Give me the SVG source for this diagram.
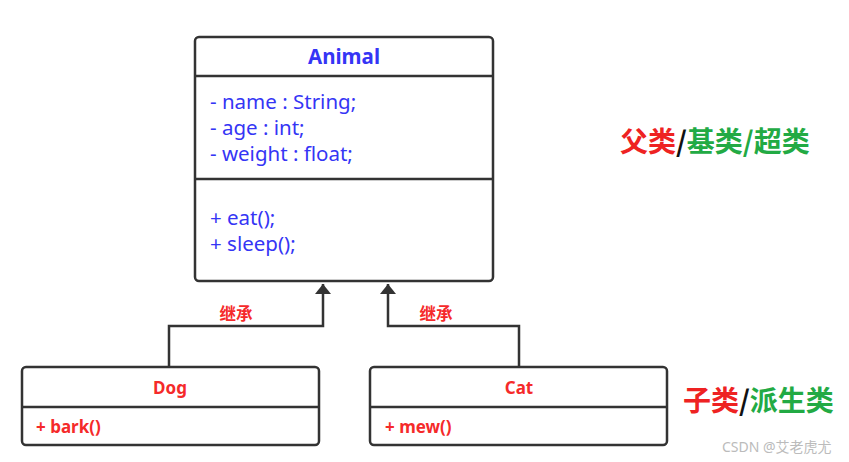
<svg xmlns="http://www.w3.org/2000/svg" width="849" height="462" viewBox="0 0 849 462">
<style>
.box{fill:#fff;stroke:#333;stroke-width:2.5}
.ln{stroke:#333;stroke-width:2.5;fill:none}
.blue{fill:#3535f5;font-family:"Noto Sans","Noto Sans CJK SC",sans-serif;font-size:20.5px}
.title{fill:#3535f5;font-family:"Noto Sans",sans-serif;font-size:20.5px;font-weight:bold}
.red{fill:#f52a2a;font-family:"Noto Sans","Noto Sans CJK SC",sans-serif;font-size:17px;font-weight:bold}
.lbl{fill:#f52a2a;font-family:"Noto Sans CJK SC",sans-serif;font-size:16.5px;font-weight:bold}
.big{font-family:"Noto Sans CJK SC",sans-serif;font-size:28px;font-weight:bold}
</style>
<defs>
<marker id="ah" viewBox="0 0 10 16" refX="10" refY="8" markerWidth="10" markerHeight="16" markerUnits="userSpaceOnUse" orient="auto">
<path d="M0,0 L10,8 L0,16 Z" fill="#333"/>
</marker>
</defs>
<g id="connectors">
<polyline class="ln" points="169,367 169,326 323,326 323,284" marker-end="url(#ah)"/>
<polyline class="ln" points="519,367 519,326 388,326 388,284" marker-end="url(#ah)"/>
<text class="lbl" x="236" y="320" text-anchor="middle">继承</text>
<text class="lbl" x="436" y="320" text-anchor="middle">继承</text>
</g>
<g id="animal">
<rect class="box" x="195" y="37" width="298" height="244" rx="4"/>
<line class="ln" x1="195" y1="76" x2="493" y2="76"/>
<line class="ln" x1="195" y1="179" x2="493" y2="179"/>
<text class="title" x="344" y="64" text-anchor="middle">Animal</text>
<text class="blue" x="210" y="109">- name : String;</text>
<text class="blue" x="210" y="135">- age : int;</text>
<text class="blue" x="210" y="161">- weight : float;</text>
<text class="blue" x="210" y="225">+ eat();</text>
<text class="blue" x="210" y="251">+ sleep();</text>
</g>
<g id="dog">
<rect class="box" x="22" y="367" width="297" height="78" rx="4"/>
<line class="ln" x1="22" y1="407" x2="319" y2="407"/>
<text class="red" x="170" y="394" text-anchor="middle">Dog</text>
<text class="red" x="36" y="433">+ bark()</text>
</g>
<g id="cat">
<rect class="box" x="370" y="367" width="297" height="78" rx="4"/>
<line class="ln" x1="370" y1="407" x2="667" y2="407"/>
<text class="red" x="519" y="394" text-anchor="middle">Cat</text>
<text class="red" x="385" y="433">+ mew()</text>
</g>
<g id="labels">
<text class="big" x="620" y="152"><tspan fill="#ee2222">父类</tspan><tspan fill="#111">/</tspan><tspan fill="#22aa44">基类/超类</tspan></text>
<text class="big" x="683" y="411"><tspan fill="#ee2222">子类</tspan><tspan fill="#111">/</tspan><tspan fill="#22aa44">派生类</tspan></text>
<text x="722" y="452" fill="#bbb" font-family="Noto Sans,Noto Sans CJK SC,sans-serif" font-size="14">CSDN @艾老虎尤</text>
</g>
</svg>
